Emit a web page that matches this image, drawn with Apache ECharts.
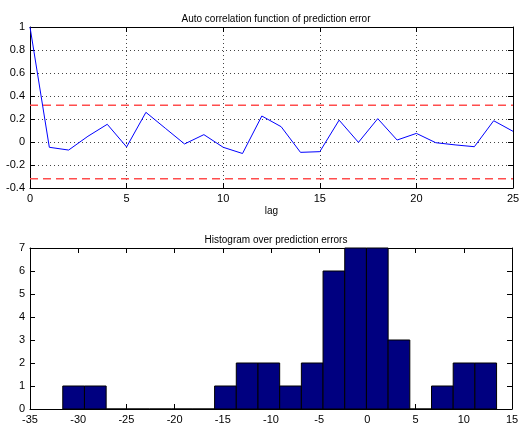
<!DOCTYPE html>
<html><head><meta charset="utf-8">
<script src="https://cdn.jsdelivr.net/npm/echarts@6/dist/echarts.min.js"></script>
<style>html,body{margin:0;padding:0;background:#fff}#c{width:523px;height:425px}</style>
</head><body><div id="c"></div>
<script>
// ---- data ----
const lags = [0,1,2,3,4,5,6,7,8,9,10,11,12,13,14,15,16,17,18,19,20,21,22,23,24,25];
const acf = [1,-0.046,-0.07,0.05,0.154,-0.043,0.258,0.12,-0.017,0.064,-0.046,-0.10,0.226,0.133,-0.09,-0.084,0.19,-0.003,0.203,0.017,0.075,-0.006,-0.025,-0.041,0.185,0.093];
const confLimit = 0.319;
const binLeftEdges = [-31.6,-29.35,-27.1,-24.85,-22.6,-20.35,-18.1,-15.85,-13.6,-11.35,-9.1,-6.85,-4.6,-2.35,-0.1,2.15,4.4,6.65,8.9,11.15];
const binWidth = 2.25;
const counts = [1,1,0,0,0,0,0,1,2,2,1,2,6,7,7,3,0,1,2,2];

const font = 'Liberation Sans, Arial, Helvetica, sans-serif';
const chart = echarts.init(document.getElementById('c'), null, {renderer:'canvas'});

function fmt(v){ return String(Math.round(v*10)/10); }

const boxLine = {show:true, onZero:false, lineStyle:{color:'#000', width:1}};
const tickIn = {show:true, inside:true, length:5, lineStyle:{color:'#000'}};
const lbl = {color:'#000', fontSize:11, fontFamily:font};
const dotted = {show:true, lineStyle:{color:'#444', type:[1,3], width:1}};

const option = {
  animation:false,
  title:[
    {text:'Auto correlation function of prediction error', left:271, top:9, textAlign:'center',
     textStyle:{fontSize:10, fontWeight:'normal', color:'#000', fontFamily:font}},
    {text:'Histogram over prediction errors', left:271, top:230, textAlign:'center',
     textStyle:{fontSize:10, fontWeight:'normal', color:'#000', fontFamily:font}}
  ],
  grid:[
    {left:30, right:10, top:27, height:161},
    {left:30, right:11, top:248, height:162}
  ],
  xAxis:[
    {gridIndex:0, type:'value', min:0, max:25, interval:5, position:'bottom',
     name:'lag', nameLocation:'middle', nameGap:18, nameTextStyle:{fontSize:10, color:'#000', fontFamily:font},
     axisLine:boxLine, axisTick:tickIn, axisLabel:Object.assign({margin:5}, lbl), splitLine:dotted},
    {gridIndex:0, type:'value', min:0, max:25, interval:5, position:'top',
     axisLine:boxLine, axisTick:tickIn, axisLabel:{show:false}, splitLine:{show:false}},
    {gridIndex:1, type:'value', min:-35, max:15, interval:5, position:'bottom',
     axisLine:boxLine, axisTick:tickIn, axisLabel:Object.assign({margin:5}, lbl), splitLine:{show:false}},
    {gridIndex:1, type:'value', min:-35, max:15, interval:5, position:'top',
     axisLine:boxLine, axisTick:tickIn, axisLabel:{show:false}, splitLine:{show:false}}
  ],
  yAxis:[
    {gridIndex:0, type:'value', min:-0.4, max:1, interval:0.2, position:'left',
     axisLine:boxLine, axisTick:tickIn, axisLabel:Object.assign({margin:5, formatter:fmt}, lbl), splitLine:dotted},
    {gridIndex:0, type:'value', min:-0.4, max:1, interval:0.2, position:'right',
     axisLine:boxLine, axisTick:tickIn, axisLabel:{show:false}, splitLine:{show:false}},
    {gridIndex:1, type:'value', min:0, max:7, interval:1, position:'left',
     axisLine:boxLine, axisTick:tickIn, axisLabel:Object.assign({margin:5}, lbl), splitLine:{show:false}},
    {gridIndex:1, type:'value', min:0, max:7, interval:1, position:'right',
     axisLine:boxLine, axisTick:tickIn, axisLabel:{show:false}, splitLine:{show:false}}
  ],
  series:[
    {type:'line', xAxisIndex:0, yAxisIndex:0, symbol:'none', z:3,
     lineStyle:{color:'#0000ff', width:1},
     data: lags.map((l,i)=>[l, acf[i]])},
    {type:'line', xAxisIndex:0, yAxisIndex:0, symbol:'none', z:2,
     lineStyle:{color:'#ff4d4d', width:1.5, type:[8,5]},
     data: [[lags[0], confLimit],[lags[lags.length-1], confLimit]]},
    {type:'line', xAxisIndex:0, yAxisIndex:0, symbol:'none', z:2,
     lineStyle:{color:'#ff4d4d', width:1.5, type:[8,5]},
     data: [[lags[0], -confLimit],[lags[lags.length-1], -confLimit]]},
    {type:'custom', xAxisIndex:2, yAxisIndex:2, z:2,
     data: binLeftEdges.map((e,i)=>[e, e+binWidth, counts[i]]),
     renderItem: function(params, api){
       const p0 = api.coord([api.value(0), 0]);
       const p1 = api.coord([api.value(1), api.value(2)]);
       return {type:'rect', shape:{x:p0[0], y:p1[1], width:p1[0]-p0[0], height:p0[1]-p1[1]},
         style:{fill:'#000080', stroke:'#000', lineWidth:1}};
     }}
  ]
};
chart.setOption(option);
</script>
</body></html>
